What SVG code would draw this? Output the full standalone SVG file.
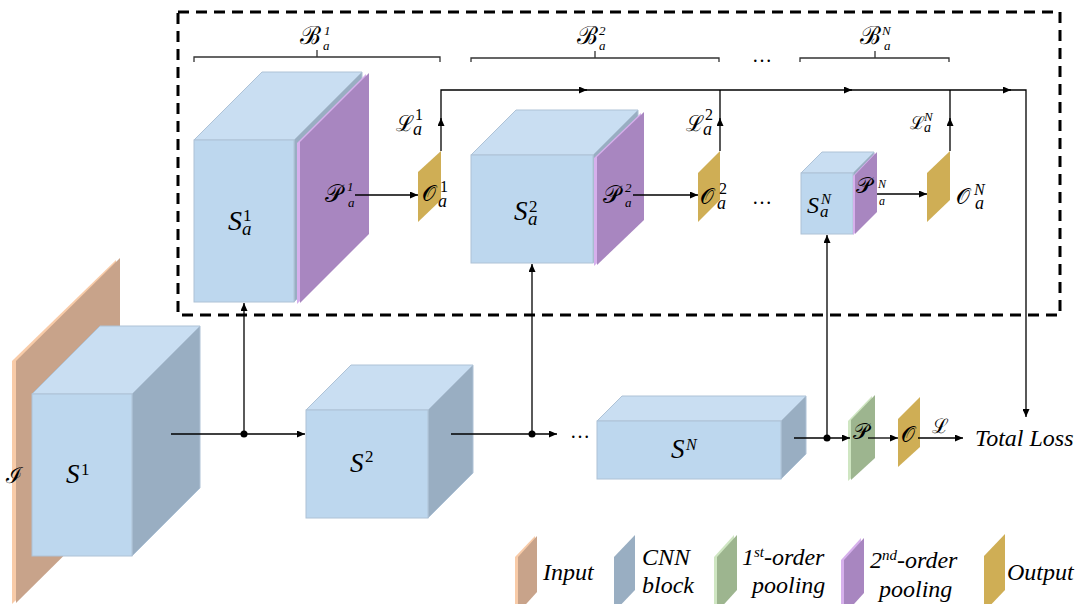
<svg xmlns="http://www.w3.org/2000/svg" width="1078" height="604" viewBox="0 0 1078 604">
  <defs>
    <marker id="arr" markerUnits="userSpaceOnUse" markerWidth="9" markerHeight="7" refX="8" refY="3.5" orient="auto">
      <path d="M0,0 L8,3.5 L0,7 z" fill="#000"/>
    </marker>
    <style>
      .front{fill:#BDD7EE;stroke:#AEC2D6;stroke-width:1}
      .top{fill:#C9DEF2;stroke:#AEC2D6;stroke-width:1}
      .side{fill:#99AEC2;stroke:#AEC2D6;stroke-width:1}
      .purple{fill:#A886C0}
      .purple-edge{fill:#D6B0EC}
      .gold{fill:#CFAE55}
      .green{fill:#9DB58F}
      .green-edge{fill:#CFE6C2}
      .tan{fill:#C8A38A}
      .tan-edge{fill:#F8CBA8}
      .ln{fill:none;stroke:#000;stroke-width:1.3}
      .brk{fill:none;stroke:#333;stroke-width:1.3}
      .dot{fill:#000}
      .scr{font-family:'DejaVu Serif',serif;fill:#000}
      .it{font-family:'Liberation Serif',serif;font-style:italic;fill:#000}
      .rm{font-family:'Liberation Serif',serif;font-style:normal;fill:#000}
      .lg{font-family:'Liberation Serif',serif;font-style:italic;font-size:24px;fill:#000}
    </style>
  </defs>
  <rect width="1078" height="604" fill="#fff"/>

  <!-- auxiliary branch frame -->
  <rect id="aux-frame" x="178" y="12" width="882" height="303" fill="none" stroke="#000" stroke-width="3" stroke-dasharray="11 7"/>

  <!-- braces over each auxiliary branch -->
  <g id="braces">
    <path class="brk" d="M194 62 V57 H440 V62 M317 57 V50"/>
    <path class="brk" d="M471 62 V58 H719 V62 M595 58 V51"/>
    <path class="brk" d="M800 62 V58 H949 V62 M875 58 V51"/>
    <text class="scr" x="300" y="44" font-size="25">ℬ<tspan class="it" x="324" y="35" font-size="13">1</tspan><tspan class="it" x="323" y="50" font-size="13">a</tspan></text>
    <text class="scr" x="577" y="44" font-size="25">ℬ<tspan class="it" x="599" y="35" font-size="13">2</tspan><tspan class="it" x="599" y="50" font-size="13">a</tspan></text>
    <text class="scr" x="860" y="44" font-size="25">ℬ<tspan class="it" x="882" y="35" font-size="13">N</tspan><tspan class="it" x="884" y="50" font-size="13">a</tspan></text>
    <text class="rm" x="762" y="62" font-size="20" text-anchor="middle">…</text>
  </g>

  <!-- input image -->
  <g id="input">
    <polygon class="tan-edge" points="12,361 116,260 116,502 12,604"/>
    <polygon class="tan" points="16,361 120,258 120,500 16,603"/>
    <text class="scr" x="6" y="483" font-size="22">ℐ</text>
  </g>

  <!-- backbone stage 1 -->
  <g id="s1">
    <polygon class="top" points="32,394 100,326 200,326 132,394"/>
    <polygon class="side" points="132,394 200,326 200,488 132,556"/>
    <rect class="front" x="32" y="394" width="100" height="162"/>
    <text class="it" x="66" y="483" font-size="27">S<tspan class="rm" x="81" y="475" font-size="17">1</tspan></text>
  </g>

  <!-- backbone stage 2 -->
  <g id="s2">
    <polygon class="top" points="306,410 351,365 473,365 428,410"/>
    <polygon class="side" points="428,410 473,365 473,473 428,518"/>
    <rect class="front" x="306" y="410" width="122" height="108"/>
    <text class="it" x="350" y="472" font-size="27">S<tspan class="rm" x="365" y="462" font-size="17">2</tspan></text>
  </g>

  <!-- backbone stage N -->
  <g id="sN">
    <polygon class="top" points="597,421 622,396 806,396 781,421"/>
    <polygon class="side" points="781,421 806,396 806,454 781,479"/>
    <rect class="front" x="597" y="421" width="184" height="58"/>
    <text class="it" x="671" y="458" font-size="27">S<tspan x="686" y="450" font-size="16">N</tspan></text>
  </g>

  <!-- first-order pooling -->
  <g id="pool">
    <polygon class="green-edge" points="848,421 872,396 872,459 848,481"/>
    <polygon class="green" points="851,420 875,395 875,458 851,480"/>
    <text class="scr" x="853" y="439" font-size="22">𝒫</text>
  </g>

  <!-- final output -->
  <g id="out">
    <polygon class="gold" points="898,419 920,397 920,447 898,467"/>
    <text class="scr" x="901" y="442" font-size="22">𝒪</text>
  </g>

  <!-- auxiliary branch 1 -->
  <g id="aux1">
    <polygon class="top" points="194,140 262,72 362,72 294,140"/>
    <polygon class="side" points="294,140 362,72 362,234 294,302"/>
    <rect class="front" x="194" y="140" width="100" height="162"/>
    <polygon class="purple-edge" points="297,143 366,74 366,235 297,304"/>
    <polygon class="purple" points="300,142 369,73 369,234 300,303"/>
    <text class="it" x="228" y="230" font-size="28">S<tspan class="rm" x="243" y="221" font-size="17">1</tspan><tspan x="242" y="235" font-size="19">a</tspan></text>
    <text class="scr" x="325" y="202" font-size="24">𝒫<tspan class="it" x="347" y="191" font-size="13">1</tspan><tspan class="it" x="348" y="207" font-size="13">a</tspan></text>
  </g>
  <g id="aux1-out">
    <polygon class="gold" points="418,172 441,151 441,200 418,222"/>
    <text class="scr" x="422" y="201" font-size="22">𝒪<tspan class="rm" x="440" y="192" font-size="16">1</tspan><tspan class="it" x="438" y="207" font-size="18">a</tspan></text>
    <text class="scr" x="396" y="131" font-size="22">ℒ<tspan class="rm" x="415" y="120" font-size="16">1</tspan><tspan class="it" x="413" y="135" font-size="18">a</tspan></text>
  </g>

  <!-- auxiliary branch 2 -->
  <g id="aux2">
    <polygon class="top" points="471,155 516,110 638,110 593,155"/>
    <polygon class="side" points="593,155 638,110 638,218 593,263"/>
    <rect class="front" x="471" y="155" width="122" height="108"/>
    <polygon class="purple-edge" points="594,158 641,113 641,221 594,266"/>
    <polygon class="purple" points="597,157 644,112 644,220 597,265"/>
    <text class="it" x="514" y="220" font-size="27">S<tspan class="rm" x="529" y="212" font-size="17">2</tspan><tspan x="528" y="225" font-size="19">a</tspan></text>
    <text class="scr" x="603" y="203" font-size="24">𝒫<tspan class="it" x="625" y="192" font-size="13">2</tspan><tspan class="it" x="625" y="207" font-size="13">a</tspan></text>
  </g>
  <g id="aux2-out">
    <polygon class="gold" points="698,173 720,151 720,200 698,222"/>
    <text class="scr" x="700" y="204" font-size="22">𝒪<tspan class="rm" x="719" y="194" font-size="16">2</tspan><tspan class="it" x="717" y="209" font-size="18">a</tspan></text>
    <text class="scr" x="686" y="131" font-size="22">ℒ<tspan class="rm" x="705" y="120" font-size="16">2</tspan><tspan class="it" x="703" y="135" font-size="18">a</tspan></text>
  </g>
  <text class="rm" x="762" y="204" font-size="20" text-anchor="middle">…</text>

  <!-- auxiliary branch N -->
  <g id="auxN">
    <polygon class="top" points="801,173 822,152 874,152 853,173"/>
    <polygon class="side" points="853,173 874,152 874,213 853,234"/>
    <rect class="front" x="801" y="173" width="52" height="61"/>
    <polygon class="purple-edge" points="853,176 875,153 875,213 853,235"/>
    <polygon class="purple" points="855,175 877,152 877,212 855,234"/>
    <text class="it" x="807" y="213" font-size="24">S<tspan x="821" y="204" font-size="15">N</tspan><tspan x="820" y="217" font-size="17">a</tspan></text>
    <text class="scr" x="856" y="193" font-size="22">𝒫<tspan class="it" x="878" y="188" font-size="12">N</tspan><tspan class="it" x="879" y="205" font-size="12">a</tspan></text>
  </g>
  <g id="auxN-out">
    <polygon class="gold" points="927,173 950,151 950,200 927,222"/>
    <text class="scr" x="956" y="204" font-size="22">𝒪<tspan class="it" x="974" y="195" font-size="16">N</tspan><tspan class="it" x="975" y="209" font-size="18">a</tspan></text>
    <text class="scr" x="910" y="129" font-size="18">ℒ<tspan class="it" x="924" y="121" font-size="13">N</tspan><tspan class="it" x="924" y="132" font-size="14">a</tspan></text>
  </g>

  <!-- connectors -->
  <g id="connectors">
    <!-- backbone -->
    <path class="ln" d="M171 434 H305" marker-end="url(#arr)"/>
    <path class="ln" d="M244 434 V303" marker-end="url(#arr)"/>
    <circle class="dot" cx="244" cy="434" r="3.5"/>
    <path class="ln" d="M451 434 H557" marker-end="url(#arr)"/>
    <path class="ln" d="M532 434 V264" marker-end="url(#arr)"/>
    <circle class="dot" cx="532" cy="434" r="3.5"/>
    <text class="rm" x="580" y="438" font-size="20" text-anchor="middle">…</text>
    <path class="ln" d="M794 438 H850" marker-end="url(#arr)"/>
    <path class="ln" d="M827 438 V235" marker-end="url(#arr)"/>
    <circle class="dot" cx="827" cy="438" r="3.5"/>
    <path class="ln" d="M868 438 H898" marker-end="url(#arr)"/>
    <path class="ln" d="M918 438 H963" marker-end="url(#arr)"/>
    <text class="scr" x="932" y="433" font-size="20">ℒ</text>
    <!-- branch pooling to outputs -->
    <path class="ln" d="M355 195 H418" marker-end="url(#arr)"/>
    <path class="ln" d="M633 195 H698" marker-end="url(#arr)"/>
    <path class="ln" d="M877 194 H927" marker-end="url(#arr)"/>
    <!-- loss collection bus -->
    <path class="ln" d="M441 151 V118" marker-end="url(#arr)"/>
    <path class="ln" d="M720 151 V118" marker-end="url(#arr)"/>
    <path class="ln" d="M950 151 V118" marker-end="url(#arr)"/>
    <path class="ln" d="M441 120 V90 H587" marker-end="url(#arr)"/>
    <path class="ln" d="M585 90 H852" marker-end="url(#arr)"/>
    <path class="ln" d="M850 90 H1011" marker-end="url(#arr)"/>
    <path class="ln" d="M720 120 V90 M950 120 V90"/>
    <path class="ln" d="M1009 90 H1026 V417" marker-end="url(#arr)"/>
  </g>
  <text class="lg" x="975" y="446">Total Loss</text>

  <!-- legend -->
  <g id="legend">
    <polygon class="tan-edge" points="515,557 535,536 535,592 515,613"/>
    <polygon class="tan" points="518,557 537,536 537,592 518,613"/>
    <text class="lg" x="543" y="580">Input</text>
    <polygon class="side" style="stroke:none" points="614,557 635,535 635,590 614,612"/>
    <text class="lg" x="642" y="565">CNN<tspan x="642" y="593">block</tspan></text>
    <polygon class="green-edge" points="714,557 734,535 734,590 714,612"/>
    <polygon class="green" points="717,557 737,535 737,590 717,612"/>
    <text class="lg" x="742" y="565">1<tspan font-size="15" dy="-8">st</tspan><tspan dy="8">-order</tspan><tspan x="752" y="593">pooling</tspan></text>
    <polygon class="purple-edge" points="841,560 861,538 861,593 841,615"/>
    <polygon class="purple" points="844,560 864,538 864,593 844,615"/>
    <text class="lg" x="870" y="568">2<tspan font-size="15" dy="-8">nd</tspan><tspan dy="8">-order</tspan><tspan x="879" y="597">pooling</tspan></text>
    <polygon class="gold" points="984,556 1005,534 1005,590 984,612"/>
    <text class="lg" x="1007" y="580">Output</text>
  </g>
</svg>
